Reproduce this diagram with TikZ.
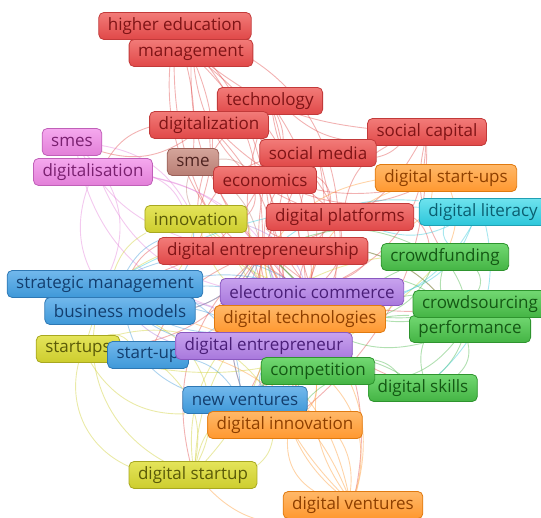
\documentclass[tikz,border=0pt]{standalone}
\usepackage{fontspec}
\setmainfont{Open Sans}
\usetikzlibrary{backgrounds}
\definecolor{rT}{HTML}{F27B78}\definecolor{rB}{HTML}{E04848}\definecolor{rD}{HTML}{C23A3A}\definecolor{rX}{HTML}{7F1416}
\definecolor{bnT}{HTML}{D4A49A}\definecolor{bnB}{HTML}{B97E74}\definecolor{bnD}{HTML}{9A6058}\definecolor{bnX}{HTML}{4E2320}
\definecolor{pT}{HTML}{F5A8EE}\definecolor{pB}{HTML}{E27FD8}\definecolor{pD}{HTML}{C060B8}\definecolor{pX}{HTML}{7A2070}
\definecolor{cT}{HTML}{6EE3EE}\definecolor{cB}{HTML}{2CC6DA}\definecolor{cD}{HTML}{20A0B4}\definecolor{cX}{HTML}{0B5E70}
\definecolor{oT}{HTML}{FFB868}\definecolor{oB}{HTML}{FF9830}\definecolor{oD}{HTML}{E07A10}\definecolor{oX}{HTML}{8E3F00}
\definecolor{bT}{HTML}{72B8EC}\definecolor{bB}{HTML}{3E98D8}\definecolor{bD}{HTML}{2E78B4}\definecolor{bX}{HTML}{133E6E}
\definecolor{vT}{HTML}{C8A2EE}\definecolor{vB}{HTML}{A878DC}\definecolor{vD}{HTML}{8A58C0}\definecolor{vX}{HTML}{4A1E78}
\definecolor{yT}{HTML}{E4E45A}\definecolor{yB}{HTML}{CDCD2E}\definecolor{yD}{HTML}{A8A820}\definecolor{yX}{HTML}{5A5A08}
\definecolor{gT}{HTML}{72D872}\definecolor{gB}{HTML}{44B444}\definecolor{gD}{HTML}{2E942E}\definecolor{gX}{HTML}{145814}
\tikzset{
  kw/.style={rounded corners=5pt, minimum height=27pt, inner xsep=9pt, inner ysep=0pt,
     font=\fontsize{17}{20}\selectfont, line width=0.8pt},
  kred/.style={kw, top color=rT, bottom color=rB, draw=rD, text=rX},
  kbrown/.style={kw, top color=bnT, bottom color=bnB, draw=bnD, text=bnX},
  kpink/.style={kw, top color=pT, bottom color=pB, draw=pD, text=pX},
  kcyan/.style={kw, top color=cT, bottom color=cB, draw=cD, text=cX},
  korange/.style={kw, top color=oT, bottom color=oB, draw=oD, text=oX},
  kblue/.style={kw, top color=bT, bottom color=bB, draw=bD, text=bX},
  kpurple/.style={kw, top color=vT, bottom color=vB, draw=vD, text=vX},
  kyellow/.style={kw, top color=yT, bottom color=yB, draw=yD, text=yX},
  kgreen/.style={kw, top color=gT, bottom color=gB, draw=gD, text=gX},
  link/.style={line width=0.9pt, opacity=0.42}
}
\begin{document}
\begin{tikzpicture}[x=1pt,y=-1pt]
\useasboundingbox (0,0) rectangle (541,518);
\clip (0,0) rectangle (541,518);
% nodes
\node[kred] (hed) at (175,26) {higher education};
\node[kred] (mgmt) at (191,53) {management};
\node[kred] (tech) at (270,101) {technology};
\node[kred] (digz) at (209,125) {digitalization};
\node[kred] (socap) at (427,132) {social capital};
\node[kpink] (smes) at (72,142) {smes};
\node[kred] (socmed) at (318,153) {social media};
\node[kbrown] (sme) at (193,162) {sme};
\node[kpink] (digs) at (93,172) {digitalisation};
\node[kred] (econ) at (265,180) {economics};
\node[korange] (dsups) at (446,178) {digital start-ups};
\node[kyellow] (innov) at (196,219) {innovation};
\node[kred] (dplat) at (340,217) {digital platforms};
\node[kcyan] (dlit) at (483,212) {digital literacy};
\node[kred] (dent) at (263,251) {digital entrepreneurship};
\node[kgreen] (crowdf) at (445,257) {crowdfunding};
\node[kblue] (strat) at (105,284) {strategic management};
\node[kpurple] (ecom) at (312,292) {electronic commerce};
\node[kblue] (bm) at (120,311) {business models};
\node[kgreen] (perf) at (470,329) {performance};
\node[kgreen] (crowds) at (480,304) {crowdsourcing};
\node[korange] (dtech) at (300,319) {digital technologies};
\node[kyellow] (sups) at (78,349) {startups};
\node[kblue] (sup) at (148,355) {start-up};
\node[kpurple] (dentr) at (264,346) {digital entrepreneur};
\node[kgreen] (dsk) at (423,388) {digital skills};
\node[kgreen] (comp) at (318,371) {competition};
\node[kblue] (newv) at (245,400) {new ventures};
\node[korange] (dinn) at (285,425) {digital innovation};
\node[kyellow] (dstup) at (193,475) {digital startup};
\node[korange] (dvent) at (353,505) {digital ventures};
% connectors
\begin{scope}[on background layer]
\foreach \a/\b/\c/\s in {
 hed/dent/rB/20, hed/dtech/rB/-25, hed/econ/rB/15, hed/ecom/rB/-35, hed/dplat/rB/30, hed/sme/rB/10,
 mgmt/dent/rB/-20, mgmt/dinn/rB/30, mgmt/ecom/rB/25, mgmt/dplat/rB/-30, mgmt/socap/rB/-15, mgmt/innov/rB/20,
 tech/dent/rB/20, tech/dplat/rB/-20, tech/econ/rB/30, tech/socap/rB/-20, tech/dtech/rB/25, tech/comp/rB/-30,
 digz/dent/rB/-20, digz/smes/rB/25, digz/digs/rB/-20, digz/dplat/rB/20, digz/newv/rB/35, digz/dsups/rB/-25,
 socap/dent/rB/20, socap/dplat/rB/-25, socap/socmed/rB/15, socap/ecom/rB/30, socap/crowdf/rB/-20, socap/dinn/rB/25,
 socmed/dent/rB/-25, socmed/econ/rB/20, socmed/dtech/rB/-30, socmed/dentr/rB/25, socmed/innov/rB/-20,
 econ/dent/rB/20, econ/comp/rB/-25, econ/dplat/rB/30, econ/strat/rB/20, econ/dsups/rB/-20,
 dplat/dent/rB/-15, dplat/ecom/rB/25, dplat/dtech/rB/-25, dplat/crowdf/rB/20, dplat/dentr/rB/30,
 dent/dinn/rB/20, dent/newv/rB/-25, dent/bm/rB/20, dent/strat/rB/-15, dent/sups/rB/25, dent/dstup/rB/-30, dent/dvent/rB/30, dent/dsk/rB/-20, dent/perf/rB/20, dent/crowds/rB/-20,
 dent/ecom/rB/35, dent/dtech/rB/-35, dent/comp/rB/15, dent/dentr/rB/-10, dent/innov/rB/40, dent/sup/rB/-20,
 econ/ecom/rB/-15, econ/innov/rB/25, econ/dentr/rB/20, socmed/ecom/rB/-20, socmed/comp/rB/15, tech/innov/rB/-25,
 smes/dent/pB/-20, smes/innov/pB/25, smes/dtech/pB/-30, smes/strat/pB/35, digs/dent/pB/20, digs/bm/pB/-30, digs/innov/pB/20, digs/dtech/pB/30, digs/ecom/pB/-25,
 sme/dent/bnB/20, sme/innov/bnB/-20, sme/econ/bnB/20,
 innov/dent/yB/20, innov/strat/yB/-20, innov/dinn/yB/30, innov/dtech/yB/-25, innov/bm/yB/25, innov/ecom/yB/-15, innov/dentr/yB/20,
 sups/dstup/yB/-40, sups/dent/yB/25, sups/sup/yB/30, sups/newv/yB/-30, sups/dinn/yB/40, sups/crowdf/yB/-30,
 dstup/dent/yB/-25, dstup/newv/yB/20, dstup/dinn/yB/-20, dstup/strat/yB/40, dstup/sup/yB/-30, dstup/ecom/yB/35, dstup/bm/yB/-45, dstup/crowdf/yB/40,
 strat/dent/bB/20, strat/bm/bB/-30, strat/ecom/bB/25, strat/dtech/bB/-20, strat/newv/bB/30, strat/dentr/bB/-15,
 bm/dent/bB/-20, bm/ecom/bB/20, bm/newv/bB/-25, bm/dtech/bB/25, bm/innov/bB/-30, bm/dentr/bB/15,
 sup/newv/bB/20, sup/dent/bB/-25, newv/dent/bB/25, newv/ecom/bB/-20, newv/dinn/bB/30, newv/dtech/bB/-15, newv/comp/bB/20,
 dvent/dinn/oB/30, dvent/dtech/oB/-30, dvent/dent/oB/25, dvent/newv/oB/-35, dvent/comp/oB/20, dvent/dentr/oB/-40, dvent/dstup/oB/30, dvent/sups/oB/-35, dvent/ecom/oB/40, dvent/bm/oB/-30,
 dsups/dent/oB/-20, dsups/dplat/oB/25, dsups/dtech/oB/-30, dsups/crowdf/oB/20,
 dinn/dent/oB/-20, dinn/dtech/oB/30, dinn/comp/oB/-25, dtech/dent/oB/20, dtech/dentr/oB/-30, dtech/ecom/oB/25, dinn/dentr/oB/20, dtech/comp/oB/-20,
 crowdf/dent/gB/-20, crowdf/crowds/gB/30, crowdf/perf/gB/-30, crowdf/dsk/gB/40, crowdf/dtech/gB/20, crowdf/comp/gB/-25,
 crowds/dent/gB/25, crowds/perf/gB/40, crowds/comp/gB/-30, crowds/ecom/gB/20, crowds/dsk/gB/-35,
 perf/dent/gB/-20, perf/dsk/gB/30, perf/comp/gB/25, perf/dinn/gB/-40, perf/dtech/gB/20, perf/ecom/gB/-20,
 comp/dent/gB/-25, comp/dsk/gB/20, dsk/dent/gB/30, dsk/dinn/gB/-30, dsk/dtech/gB/25, dsk/newv/gB/-35, comp/ecom/gB/25, comp/dentr/gB/-20,
 dlit/dent/cB/-20, dlit/dsk/cB/30, dlit/ecom/cB/25, dlit/crowdf/cB/-30, dlit/dtech/cB/20, dlit/strat/cB/-15, dlit/dplat/cB/20,
 ecom/dent/vB/20, ecom/dentr/vB/-25, ecom/dtech/vB/30, dentr/dent/vB/-20, dentr/newv/vB/25, dentr/bm/vB/-20, dentr/strat/vB/20, ecom/innov/vB/-25}
 { \draw[link, draw=\c] (\a) to[bend left=\s] (\b); }
\end{scope}
\end{tikzpicture}
\end{document}
